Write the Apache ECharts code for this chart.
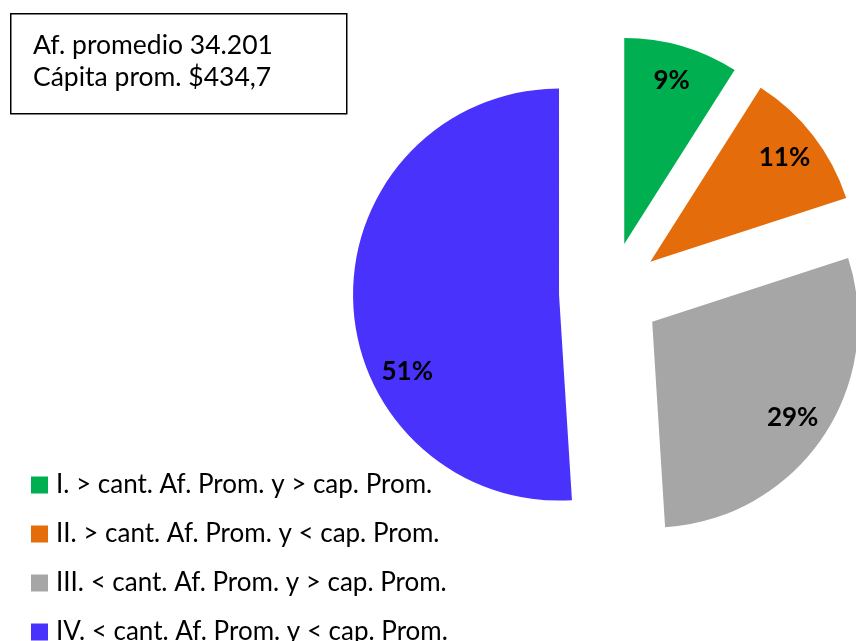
<!DOCTYPE html>
<html>
<head>
<meta charset="utf-8">
<script src="https://cdn.jsdelivr.net/npm/echarts@6/dist/echarts.min.js"></script>
<style>
    html, body { margin: 0; padding: 0; background: #ffffff; }
    #chart { width: 856px; height: 641px; }
</style>
</head>
<body>
<div id="chart"></div>
<script>
const categories = [
    'I. > cant. Af. Prom. y > cap. Prom.',
    'II. > cant. Af. Prom. y < cap. Prom.',
    'III. < cant. Af. Prom. y > cap. Prom.',
    'IV. < cant. Af. Prom. y < cap. Prom.'
];
const shares = [9, 11, 29, 51];
const colors = ['#00b050', '#e46c0a', '#a6a6a6', '#4a32fd'];
const infoLines = ['Af. promedio 34.201', 'Cápita prom. $434,7'];

const chart = echarts.init(document.getElementById('chart'));

const radius = 206;
const total = shares.reduce((a, b) => a + b, 0);

// ángulo medio de cada porción (desde las 12, sentido horario)
function midAngle(i) {
    let before = 0;
    for (let k = 0; k < i; k++) before += shares[k];
    return (before + shares[i] / 2) / total * Math.PI * 2;
}

const option = {
    animation: false,
    legend: {
        orient: 'vertical',
        left: 31,
        top: 472,
        height: 200,
        padding: 0,
        itemWidth: 17,
        itemHeight: 17,
        itemGap: 23,
        icon: 'rect',
        selectedMode: false,
        textStyle: {
            fontFamily: 'Lato',
            fontSize: 26,
            color: '#000000',
            padding: [0, 0, 0, 3]
        },
        data: categories
    },
    graphic: [
        {
            type: 'rect',
            left: 10,
            top: 13,
            shape: { width: 336, height: 100 },
            style: { fill: '#ffffff', stroke: '#000000', lineWidth: 1.5 }
        },
        {
            type: 'text',
            left: 33,
            top: 29,
            style: {
                text: infoLines.join('\n'),
                fontFamily: 'Lato',
                fontSize: 26.5,
                lineHeight: 32,
                fill: '#000000'
            }
        }
    ],
    series: [
        {
            type: 'pie',
            center: [610, 293],
            radius: radius,
            startAngle: 90,
            clockwise: true,
            selectedMode: 'multiple',
            selectedOffset: 51,
            emphasis: { disabled: true },
            itemStyle: { borderWidth: 0 },
            label: {
                show: true,
                position: 'inside',
                formatter: '{c}%',
                fontFamily: 'Lato',
                fontWeight: 'bold',
                fontSize: 26,
                color: '#000000'
            },
            labelLine: { show: false },
            labelLayout: function (p) {
                const a = midAngle(p.dataIndex);
                const extra = radius * 0.31;
                let dx = extra * Math.sin(a);
                let dy = -extra * Math.cos(a);
                // la etiqueta de la porción mayor queda más abajo en el original
                if (shares[p.dataIndex] === Math.max(...shares)) {
                    dx += 18;
                    dy += 72;
                }
                return { dx: dx, dy: dy };
            },
            data: categories.map((name, i) => ({
                name: name,
                value: shares[i],
                selected: true,
                itemStyle: { color: colors[i] }
            }))
        }
    ]
};

chart.setOption(option);
</script>
</body>
</html>
